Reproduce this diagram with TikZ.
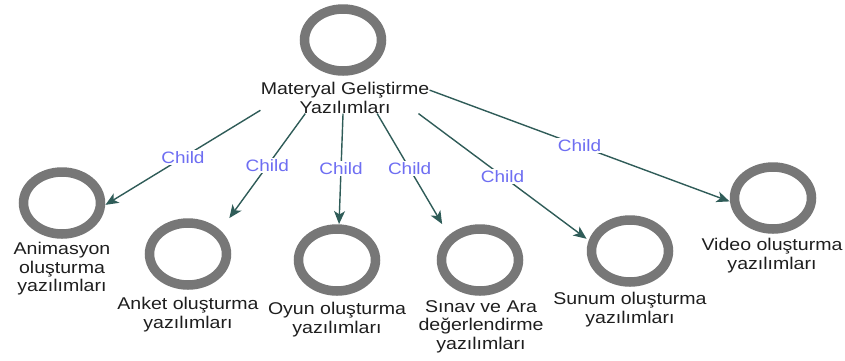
\documentclass[tikz,border=0pt]{standalone}
\usepackage{fontspec}
\setmainfont{Liberation Sans}[FakeStretch=1.15]
\usetikzlibrary{shapes.geometric,fit,arrows.meta}
\definecolor{ringgrey}{HTML}{777777}
\definecolor{edgeteal}{HTML}{2F5C58}
\definecolor{tagblue}{HTML}{6E6EF2}
\definecolor{inkdark}{HTML}{1E1E1E}
\begin{document}
\begin{tikzpicture}[x=1pt,y=-1pt,
  ring/.style={ellipse, draw=ringgrey, line width=9.5pt, minimum width=77pt,
    minimum height=62pt, inner sep=0pt},
  caption/.style={anchor=north, align=center, inner sep=0pt, text=inkdark,
    font=\fontsize{17}{18.5}\selectfont},
  group/.style={inner sep=0pt, draw=none},
  link/.style={draw=edgeteal, line width=1.4pt,
    -{Stealth[length=13pt,width=11pt,inset=3.5pt]}},
  tag/.style={midway, fill=white, inner sep=1.5pt, text=tagblue,
    font=\fontsize{16.5}{18}\selectfont}]
\useasboundingbox (0,0) rectangle (845,360);

% root
\node[ring] (c0) at (343,40) {};
\node[caption] (t0) at (345,82) {Materyal Geliştirme\\Yazılımları};
\node[group, fit=(c0)(t0)] (g0) {};

% children: ring, caption, and a box spanning both
\node[ring] (c1) at (62,203) {};
\node[caption] (t1) at (62,242) {Animasyon\\oluşturma\\yazılımları};
\node[group, fit=(c1)(t1.south)] (g1) {};

\node[ring] (c2) at (188,254) {};
\node[caption] (t2) at (188,297) {Anket oluşturma\\yazılımları};
\node[group, fit=(c2)(t2.south)] (g2) {};

\node[ring] (c3) at (337,260) {};
\node[caption] (t3) at (337,302) {Oyun oluşturma\\yazılımları};
\node[group, fit=(c3)(t3.south)] (g3) {};

\node[ring] (c4) at (480,260) {};
\node[caption] (t4) at (481,300) {Sınav ve Ara\\değerlendirme\\yazılımları};
\node[group, fit=(c4)(t4.south)] (g4) {};

\node[ring] (c5) at (630,251) {};
\node[caption] (t5) at (630,292) {Sunum oluşturma\\yazılımları};
\node[group, fit=(c5)(t5.south)] (g5) {};

\node[ring] (c6) at (773,198) {};
\node[caption] (t6) at (772,238) {Video oluşturma\\yazılımları};
\node[group, fit=(c6)(t6.south)] (g6) {};

% connectors
\foreach \k in {1,...,6}
  \draw[link] (g0) -- node[tag] {Child} (g\k);
\end{tikzpicture}
\end{document}
